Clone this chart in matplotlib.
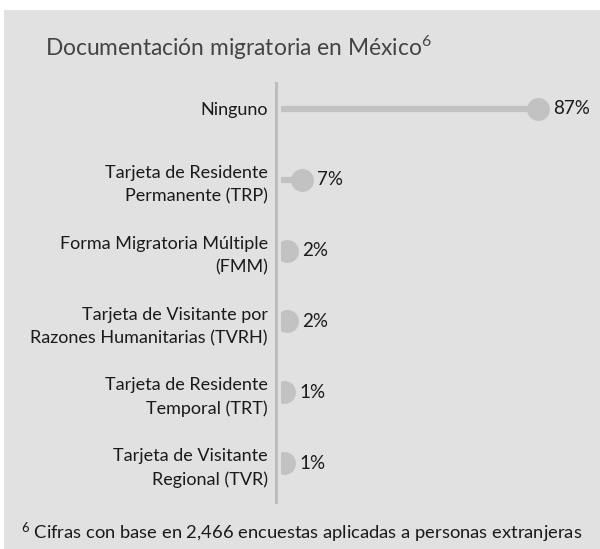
import matplotlib.pyplot as plt
from matplotlib.patches import Rectangle

plt.rcParams['font.family'] = ['Lato', 'DejaVu Sans']
plt.rcParams['mathtext.fontset'] = 'custom'
plt.rcParams['mathtext.rm'] = 'Lato'
plt.rcParams['mathtext.it'] = 'Lato'
plt.rcParams['mathtext.bf'] = 'Lato'
plt.rcParams['mathtext.default'] = 'rm'

categories = [
    "Ninguno",
    "Tarjeta de Residente\nPermanente (TRP)",
    "Forma Migratoria Múltiple\n(FMM)",
    "Tarjeta de Visitante por\nRazones Humanitarias (TVRH)",
    "Tarjeta de Residente\nTemporal (TRT)",
    "Tarjeta de Visitante\nRegional (TVR)",
]
values = [87, 7, 2, 2, 1, 1]
value_labels = ["87%", "7%", "2%", "2%", "1%", "1%"]

bg = "#e1e1e1"
mark = "#c2c2c2"

fig = plt.figure(figsize=(6, 5.49), dpi=100)
W, H = 600, 549
fig.patches.append(Rectangle((4 / W, 0), 1, 1 - 10 / H, transform=fig.transFigure,
                             facecolor=bg, edgecolor="none", zorder=-5))

# axes: data zero at 281px, top 83px, bottom 502px
ax = fig.add_axes([281 / W, 1 - 502 / H, 295 / W, (502 - 83) / H])
ax.set_facecolor("none")
ax.set_zorder(2)

# spine first: moving it resets the tick labels
for s in ["top", "right", "bottom"]:
    ax.spines[s].set_visible(False)
ax.spines["left"].set_position(("outward", 3.6))
ax.spines["left"].set_color("#bdbdbd")
ax.spines["left"].set_linewidth(2.2)

y = list(range(len(categories)))
ax.hlines(y, 0, values, color=mark, linewidth=4.5, zorder=2)
ax.plot(values, y, "o", color=mark, markersize=15.5, zorder=3, clip_on=True)

for yi, v, lab in zip(y, values, value_labels):
    ax.annotate(lab, (v, yi), xytext=(11, 0), textcoords="offset points",
                va="center", ha="left", fontsize=13.5, color="#1a1a1a",
                annotation_clip=False)

ax.set_xlim(0, 100)
ax.set_ylim(5.55, -0.367)
ax.set_yticks(y)
ax.set_yticklabels(categories, fontsize=13, color="#1a1a1a", linespacing=1.55)
ax.tick_params(axis="y", length=0, pad=6)
ax.set_xticks([])

fig.text(45 / W, 1 - 48 / H, r"Documentación migratoria en México$^{6}$", fontsize=16.4,
         color="#444444", va="center", ha="left")
fig.text(302 / W, 1 - 533 / H,
         r"$^{6}$ Cifras con base en 2,466 encuestas aplicadas a personas extranjeras",
         fontsize=13.2, color="#1a1a1a", va="center", ha="center")

fig.savefig("out.png", dpi=100)
